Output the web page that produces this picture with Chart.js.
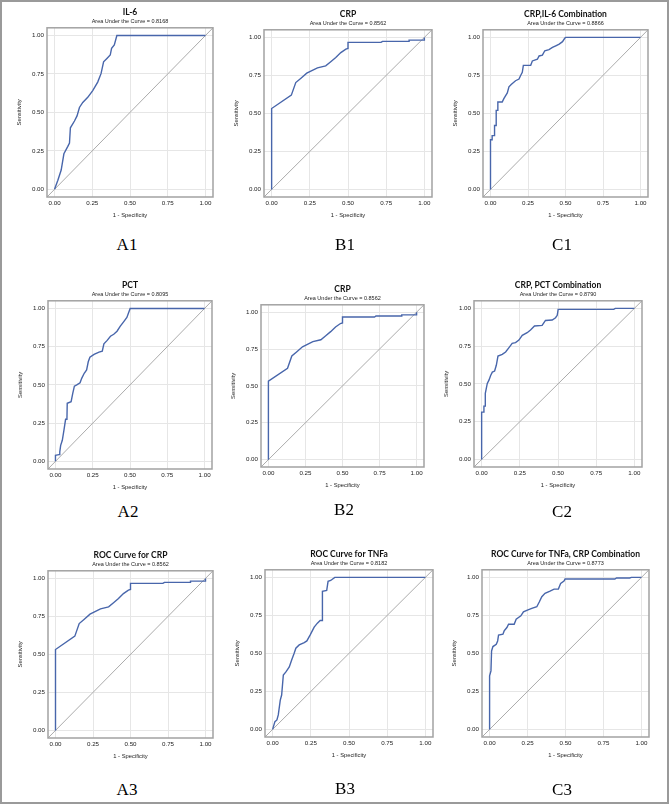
<!DOCTYPE html>
<html><head><meta charset="utf-8">
<script src="https://cdn.jsdelivr.net/npm/chart.js@4.4.1/dist/chart.umd.min.js"></script>
<style>
html,body{margin:0;padding:0;background:#fff;}
#frame{position:absolute;left:0;top:0;width:669px;height:804px;box-sizing:border-box;border:2px solid #9a9a9a;}
canvas{position:absolute;}
.lbl{position:absolute;font-family:"Liberation Serif","DejaVu Serif",serif;font-size:17px;color:#000;transform:translate(-50%,-50%);white-space:nowrap;}
</style></head><body>
<div id="frame"></div>
<script>
// ---- data ----
const tickValues = [0, 0.25, 0.5, 0.75, 1];
const tickLabels = ['0.00', '0.25', '0.50', '0.75', '1.00'];
const diagX = [-0.05, 1.05];
const diagY = [-0.05, 1.05];

const il6X = [0,0.022,0.044,0.062,0.088,0.099,0.105,0.132,0.149,0.165,0.187,0.22,0.253,0.286,0.308,0.325,0.347,0.369,0.378,0.396,0.413,1];
const il6Y = [0,0.059,0.125,0.231,0.279,0.301,0.40,0.444,0.477,0.532,0.565,0.598,0.642,0.697,0.752,0.829,0.851,0.873,0.916,0.938,1,1];

const crpX = [0,0,0.129,0.158,0.19,0.23,0.30,0.354,0.387,0.42,0.453,0.486,0.50,0.50,0.716,0.726,0.90,0.90,1,1];
const crpY = [0,0.532,0.62,0.703,0.73,0.765,0.80,0.813,0.84,0.868,0.90,0.923,0.927,0.967,0.967,0.974,0.974,0.982,0.982,1];

const crpIl6X = [0,0,0.011,0.011,0.027,0.027,0.038,0.038,0.049,0.049,0.078,0.089,0.1,0.112,0.123,0.138,0.167,0.19,0.2,0.212,0.219,0.268,0.279,0.3125,0.324,0.346,0.362,0.39,0.413,0.435,0.458,0.48,0.496,0.502,1];
const crpIl6Y = [0,0.327,0.327,0.354,0.354,0.42,0.42,0.52,0.52,0.575,0.575,0.597,0.615,0.635,0.675,0.69,0.715,0.726,0.748,0.77,0.816,0.816,0.845,0.856,0.878,0.883,0.912,0.92,0.934,0.945,0.956,0.972,0.996,1,1];

const pctX = [0,0,0.024,0.029,0.035,0.046,0.057,0.068,0.077,0.079,0.105,0.116,0.127,0.143,0.165,0.176,0.193,0.209,0.22,0.231,0.259,0.292,0.314,0.325,0.347,0.369,0.391,0.413,0.435,0.457,0.479,0.501,1];
const pctY = [0,0.04,0.044,0.062,0.105,0.138,0.204,0.275,0.275,0.38,0.39,0.445,0.492,0.50,0.514,0.543,0.576,0.598,0.651,0.681,0.70,0.714,0.72,0.769,0.791,0.818,0.831,0.851,0.884,0.912,0.941,1,1];

const crpPctX = [0,0,0.015,0.015,0.024,0.024,0.037,0.048,0.059,0.07,0.085,0.096,0.107,0.135,0.157,0.179,0.2,0.222,0.244,0.266,0.298,0.32,0.346,0.396,0.418,0.462,0.484,0.495,0.501,0.865,0.875,1];
const crpPctY = [0,0.313,0.313,0.353,0.353,0.437,0.503,0.525,0.556,0.578,0.585,0.623,0.684,0.695,0.711,0.74,0.768,0.773,0.79,0.821,0.839,0.857,0.883,0.887,0.92,0.923,0.938,0.954,0.993,0.993,1,1];

const tnfX = [0,0.015,0.028,0.037,0.05,0.059,0.07,0.087,0.109,0.124,0.141,0.152,0.174,0.207,0.224,0.246,0.272,0.293,0.311,0.326,0.326,0.354,0.363,0.38,0.407,1];
const tnfY = [0,0.051,0.062,0.095,0.193,0.226,0.358,0.378,0.411,0.455,0.501,0.534,0.556,0.571,0.582,0.622,0.673,0.699,0.716,0.716,0.908,0.914,0.974,0.98,1,1];

const tnfCrpX = [0,0,0.009,0.013,0.022,0.044,0.053,0.059,0.088,0.096,0.114,0.125,0.162,0.175,0.206,0.223,0.249,0.278,0.311,0.328,0.344,0.365,0.398,0.425,0.453,0.468,0.49,0.497,0.825,0.836,0.923,0.934,1];
const tnfCrpY = [0,0.352,0.385,0.516,0.545,0.56,0.582,0.62,0.626,0.648,0.67,0.692,0.692,0.725,0.747,0.773,0.785,0.796,0.807,0.84,0.873,0.895,0.91,0.923,0.923,0.96,0.976,0.989,0.989,0.996,0.996,1,1];

const panelTitles = ['IL-6','CRP','CRP,IL-6 Combination','PCT','CRP','CRP, PCT Combination','ROC Curve for CRP','ROC Curve for TNFa','ROC Curve for TNFa, CRP Combination'];
const panelAUC = ['0.8168','0.8562','0.8866','0.8095','0.8562','0.8790','0.8562','0.8182','0.8773'];
const panelLabels = ['A1','B1','C1','A2','B2','C2','A3','B3','C3'];
const panelXs = [il6X, crpX, crpIl6X, pctX, crpX, crpPctX, crpX, tnfX, tnfCrpX];
const panelYs = [il6Y, crpY, crpIl6Y, pctY, crpY, crpPctY, crpY, tnfY, tnfCrpY];

// ---- layout (frame left, top, right, bottom, label cx, label cy) ----
const boxes = [
  [47,29,213,197,127,245],[264,31,432,197,345,245],[483,31,648,197,562,245],
  [48,302,212,469,128,512],[261,306,424,467,344,510],[474,302,642,467,562,512],
  [48,572,213,738,127,790],[265,571,433,737,345,789],[482,571,649,737,562,790]
];

const BLUE = '#4866ab';
const framePlugin = {
  id:'frameBox',
  afterDatasetsDraw(chart){
    const a = chart.chartArea, ctx = chart.ctx;
    ctx.save();
    ctx.strokeStyle = '#a2a2a2';
    ctx.lineWidth = 1.5;
    ctx.strokeRect(a.left, a.top, a.right - a.left, a.bottom - a.top);
    ctx.restore();
  }
};

function makeChart(i){
  const [L,T,R,B,lx,ly] = boxes[i];
  const AXL = 31, TOP = 25, BOT = 22;
  const w = (R-L) + 2*AXL, h = TOP + (B-T) + BOT;
  const c = document.createElement('canvas');
  c.width = w; c.height = h;
  c.style.left = (L-AXL)+'px'; c.style.top = (T-TOP)+'px';
  c.style.width = w+'px'; c.style.height = h+'px';
  document.body.appendChild(c);
  const xs = panelXs[i], ys = panelYs[i];
  const tickFont = {family:'Liberation Sans', size:6.2};
  const titleFont = {family:'Liberation Sans', size:5.8};
  new Chart(c, {
    type:'scatter',
    data:{datasets:[
      {data: xs.map((v,k)=>({x:v,y:ys[k]})), showLine:true, borderColor:BLUE, borderWidth:1.4, pointRadius:0, tension:0},
      {data: diagX.map((v,k)=>({x:v,y:diagY[k]})), showLine:true, borderColor:'#ababab', borderWidth:1, pointRadius:0}
    ]},
    options:{
      responsive:false, animation:false, devicePixelRatio:1,
      layout:{padding:{top:3,left:0,right:0,bottom:0}},
      plugins:{
        legend:{display:false}, tooltip:{enabled:false},
        title:{display:true, text:panelTitles[i], color:'#111', font:{family:'Lato', weight:'bold', size:8.5}, padding:{top:0,bottom:1}},
        subtitle:{display:true, text:'Area Under the Curve = '+panelAUC[i], color:'#222', font:{family:'Liberation Sans', size:5.5}, padding:{top:0,bottom:3}}
      },
      scales:{
        x:{type:'linear', min:-0.05, max:1.05,
          afterBuildTicks:s=>{ s.ticks = tickValues.map(v=>({value:v})); },
          afterFit:s=>{ s.height = BOT; },
          ticks:{callback:(v,idx)=>tickLabels[idx], padding:3, font:tickFont, color:'#222', maxRotation:0, autoSkip:false},
          grid:{color:'#e6e6e6', drawTicks:false}, border:{display:false},
          title:{display:true, text:'1 - Specificity', padding:0, font:titleFont, color:'#222'}},
        y:{type:'linear', min:-0.05, max:1.05,
          afterBuildTicks:s=>{ s.ticks = tickValues.map(v=>({value:v})); },
          afterFit:s=>{ s.width = AXL; },
          ticks:{callback:(v,idx)=>tickLabels[idx], padding:3, font:tickFont, color:'#222', autoSkip:false},
          grid:{color:'#e6e6e6', drawTicks:false}, border:{display:false},
          title:{display:true, text:'Sensitivity', padding:0, font:titleFont, color:'#222'}},
        yR:{type:'linear', position:'right', display:true, min:0, max:1,
          afterFit:s=>{ s.width = AXL; },
          ticks:{display:false}, grid:{display:false}, border:{display:false}}
      }
    },
    plugins:[framePlugin]
  });
  const d = document.createElement('div');
  d.className = 'lbl'; d.textContent = panelLabels[i];
  d.style.left = lx+'px'; d.style.top = ly+'px';
  document.body.appendChild(d);
}
for (let i = 0; i < 9; i++) makeChart(i);
</script>
</body></html>
